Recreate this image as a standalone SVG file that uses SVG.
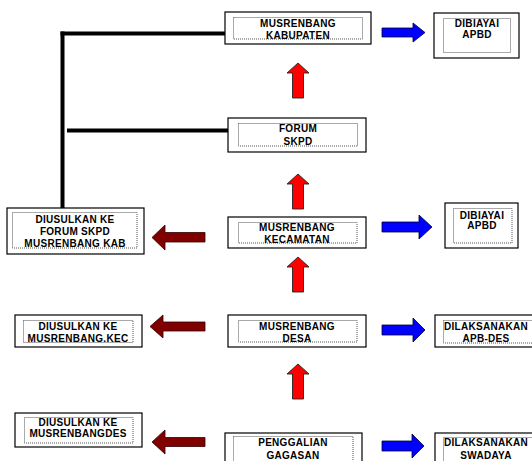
<svg xmlns="http://www.w3.org/2000/svg" width="532" height="461" viewBox="0 0 532 461">
<style>
.o{fill:#fff;stroke:#000;stroke-width:1.2}
.i{fill:none;stroke:#555;stroke-width:1;stroke-dasharray:1 1}
.t{font-family:"Liberation Sans",Arial,sans-serif;font-weight:bold;font-size:10px;letter-spacing:0.3px;text-anchor:middle;fill:#000}
.ln{stroke:#000;stroke-width:4;fill:none}
.blue{fill:#0000ff;stroke:#000033;stroke-width:0.8}
.dred{fill:#800000;stroke:#330000;stroke-width:0.8}
.red{fill:#ff0000;stroke:#222;stroke-width:0.9}
</style>
<defs>
<path id="up" d="M0,0 L11,10 H5.5 V35 H-5.5 V10 H-11 Z"/>
</defs>
<rect width="532" height="461" fill="#fff"/>
<g id="connectors">
<path class="ln" d="M62.5,208 V31.5"/>
<path class="ln" d="M60.5,33.5 H226"/>
<path class="ln" d="M67,130.5 H229"/>
<path class="blue" d="M382,28 H413 V23 L425,32.5 L413,42 V37 H382 Z"/>
<path class="blue" d="M382,222 H419 V215 L432,227 L419,239 V232 H382 Z"/>
<path class="blue" d="M382,325 H413 V318 L425,330 L413,342 V335 H382 Z"/>
<path class="blue" d="M382,441 H412 V434 L424,446 L412,458 V451 H382 Z"/>
<path class="dred" d="M205,232.5 H165 V225 L152,237.5 L165,250 V242 H205 Z"/>
<path class="dred" d="M205,322 H163 V315 L150,326.5 L163,338 V331 H205 Z"/>
<path class="dred" d="M205,437.5 H165 V430 L152,442 L165,454 V446.5 H205 Z"/>
<use href="#up" class="red" x="298" y="63"/>
<use href="#up" class="red" x="298" y="174"/>
<use href="#up" class="red" x="298" y="257" transform="translate(0,0)"/>
<use href="#up" class="red" x="298" y="364"/>
</g>
<g id="kabupaten">
<rect class="o" x="225" y="12" width="146" height="32"/>
<rect class="i" x="233.5" y="17.5" width="129" height="21.5"/>
<text class="t" x="298" y="27">MUSRENBANG</text>
<text class="t" x="298" y="39">KABUPATEN</text>
</g>
<g id="apbd1">
<rect class="o" x="434" y="13" width="85" height="45"/>
<rect class="i" x="443.5" y="18.5" width="67" height="34"/>
<text class="t" x="477" y="27">DIBIAYAI</text>
<text class="t" x="477" y="38">APBD</text>
</g>
<g id="forum">
<rect class="o" x="228" y="118" width="138" height="34"/>
<rect class="i" x="238.5" y="123.5" width="119" height="22.5"/>
<text class="t" x="298" y="132">FORUM</text>
<text class="t" x="298" y="144.5">SKPD</text>
</g>
<g id="kecamatan">
<rect class="o" x="228" y="217" width="138" height="31"/>
<rect class="i" x="238.5" y="222.5" width="118.5" height="20.5"/>
<text class="t" x="297" y="231">MUSRENBANG</text>
<text class="t" x="297" y="243">KECAMATAN</text>
</g>
<g id="apbd2">
<rect class="o" x="445" y="203" width="73" height="45"/>
<rect class="i" x="453.5" y="208.5" width="58.5" height="34.5"/>
<text class="t" x="482" y="218.5">DIBIAYAI</text>
<text class="t" x="482" y="228.5">APBD</text>
</g>
<g id="usul-kab">
<rect class="o" x="7" y="208" width="137" height="46"/>
<rect class="i" x="12.5" y="212.5" width="124.5" height="35.5"/>
<text class="t" x="75" y="222.5">DIUSULKAN KE</text>
<text class="t" x="75" y="234.5">FORUM SKPD</text>
<text class="t" x="75" y="246.5">MUSRENBANG KAB</text>
</g>
<g id="usul-kec">
<rect class="o" x="15" y="315" width="127" height="32"/>
<rect class="i" x="23.5" y="320.5" width="109.5" height="22"/>
<text class="t" x="78" y="329.5">DIUSULKAN KE</text>
<text class="t" x="78" y="342">MUSRENBANG.KEC</text>
</g>
<g id="desa">
<rect class="o" x="228" y="315" width="138" height="32"/>
<rect class="i" x="238.5" y="320.5" width="118.5" height="21.5"/>
<text class="t" x="297" y="329.5">MUSRENBANG</text>
<text class="t" x="297" y="342">DESA</text>
</g>
<g id="apbdes">
<rect class="o" x="435" y="315" width="110" height="32"/>
<rect class="i" x="443.5" y="320.5" width="95" height="22.5"/>
<text class="t" x="486" y="329.5">DILAKSANAKAN</text>
<text class="t" x="486" y="342">APB-DES</text>
</g>
<g id="usul-des">
<rect class="o" x="15" y="413" width="127" height="34"/>
<rect class="i" x="24.5" y="417.5" width="108.5" height="25.5"/>
<text class="t" x="78" y="425.5">DIUSULKAN KE</text>
<text class="t" x="78" y="437">MUSRENBANGDES</text>
</g>
<g id="penggalian">
<rect class="o" x="225" y="433" width="137" height="40"/>
<rect class="i" x="233.5" y="436.5" width="119.5" height="30"/>
<text class="t" x="293" y="446">PENGGALIAN</text>
<text class="t" x="293" y="458.5">GAGASAN</text>
</g>
<g id="swadaya">
<rect class="o" x="435" y="433" width="110" height="40"/>
<rect class="i" x="443.5" y="437.5" width="95" height="30"/>
<text class="t" x="486" y="446">DILAKSANAKAN</text>
<text class="t" x="486" y="458.5">SWADAYA</text>
</g>
</svg>
